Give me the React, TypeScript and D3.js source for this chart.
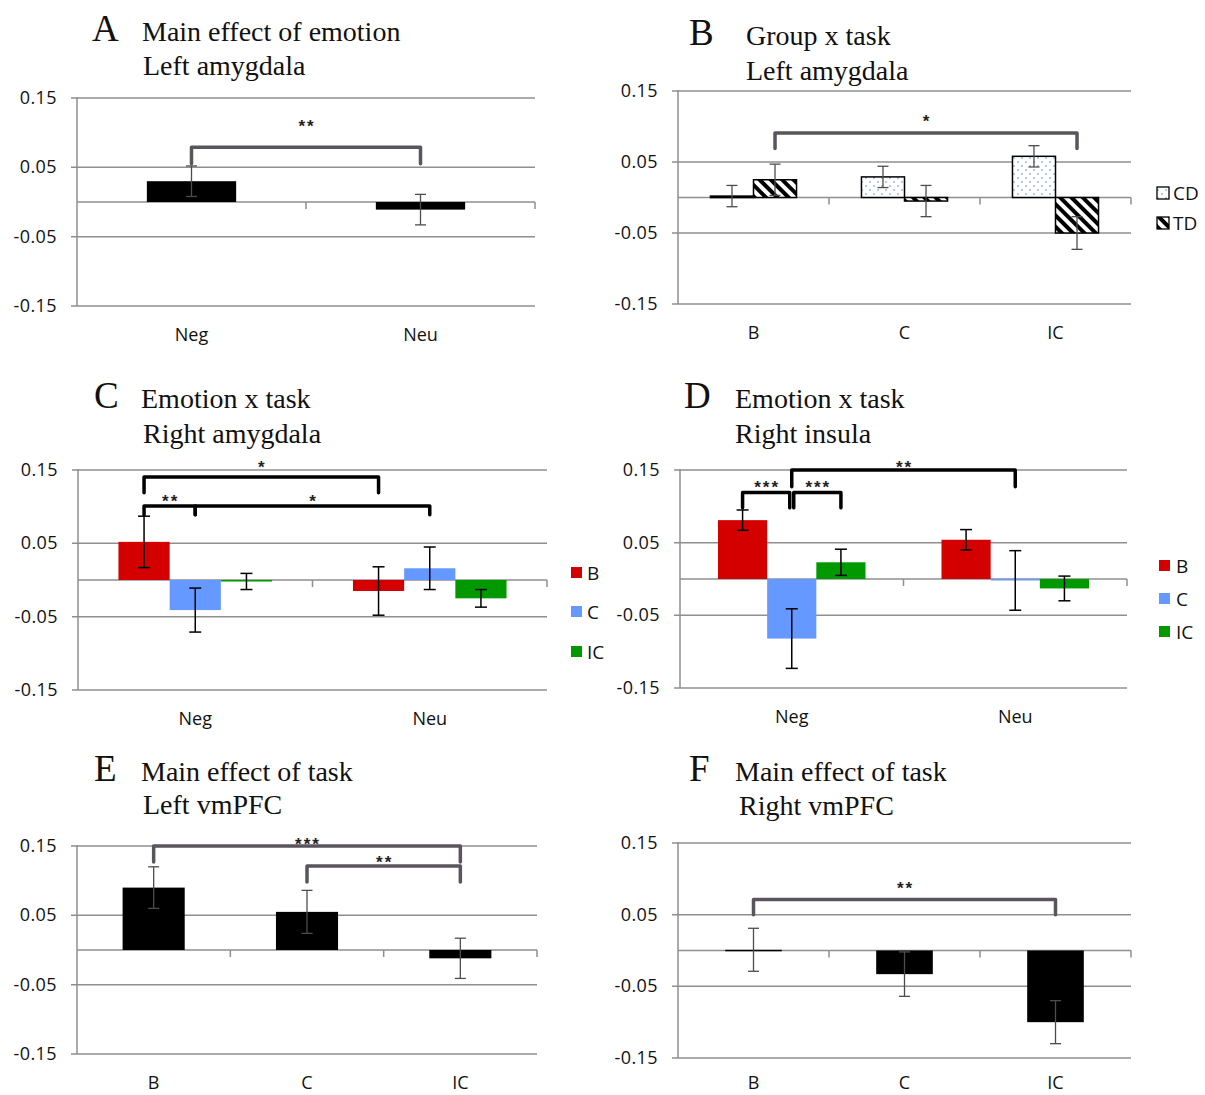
import React, { useEffect, useRef } from 'react';
import * as d3 from 'd3';

// categories and ticks
const emotionCats = ['Neg', 'Neu'];
const taskCats = ['B', 'C', 'IC'];
const tickValues = [0.15, 0.05, -0.05, -0.15];
const tickLabels = ['0.15', '0.05', '-0.05', '-0.15'];

// A: main effect of emotion, left amygdala
const aMeans = [0.03, -0.011];
const aSem = [0.022, 0.022];

// B: group x task, left amygdala
const bCD = [0.002, 0.029, 0.058];
const bCDsem = [0.015, 0.015, 0.015];
const bTD = [0.025, -0.005, -0.05];
const bTDsem = [0.022, 0.022, 0.023];

// C: emotion x task, right amygdala
const cB = [0.052, -0.015];
const cBsem = [0.035, 0.033];
const cC = [-0.041, 0.016];
const cCsem = [0.03, 0.029];
const cIC = [-0.002, -0.025];
const cICsem = [0.011, 0.012];

// D: emotion x task, right insula
const dB = [0.081, 0.054];
const dBsem = [0.014, 0.014];
const dC = [-0.082, -0.002];
const dCsem = [0.041, 0.041];
const dIC = [0.023, -0.013];
const dICsem = [0.018, 0.017];

// E: main effect of task, left vmPFC
const eMeans = [0.09, 0.055, -0.012];
const eSem = [0.03, 0.031, 0.029];

// F: main effect of task, right vmPFC
const fMeans = [0.001, -0.033, -0.1];
const fSem = [0.03, 0.031, 0.03];

// significance brackets: [category, series] ends, level and drop in data units
const aSig = [{ from: [0, 0], to: [1, 0], level: 0.079, drop: 0.055, label: '**', at: 0.115 }];
const bSig = [{ from: [0, 1], to: [2, 1], level: 0.091, drop: 0.069, label: '*', at: 0.114 }];
const cSig = [
  { from: [0, 0], to: [1, 0], level: 0.1405, drop: 0.119, label: '*', at: 0.16 },
  { from: [0, 0], to: [0, 1], level: 0.101, drop: 0.089, label: '**', at: 0.113 },
  { from: [0, 1], to: [1, 1], level: 0.101, drop: 0.089, label: '*', at: 0.113 },
];
const dSig = [
  { from: [0, 0], to: [0, 1], level: 0.119, drop: 0.098, label: '***', at: 0.132, nudgeR: -2 },
  { from: [0, 1], to: [0, 2], level: 0.119, drop: 0.098, label: '***', at: 0.132, nudgeL: 2 },
  { from: [0, 1], to: [1, 1], level: 0.15, drop: 0.127, label: '**', at: 0.16 },
];
const eSig = [
  { from: [0, 0], to: [2, 0], level: 0.15, drop: 0.127, label: '***', at: 0.159 },
  { from: [1, 0], to: [2, 0], level: 0.121, drop: 0.098, label: '**', at: 0.133 },
];
const fSig = [{ from: [0, 0], to: [2, 0], level: 0.071, drop: 0.05, label: '**', at: 0.093 }];

const RED = '#d40000';
const BLUE = '#6699ff';
const GREEN = '#009a00';
const GRID = '#8f8f8f';
const GREYBAR = '#5a545c';

const panels = [
  {
    letter: 'A', title1: 'Main effect of emotion', title2: 'Left amygdala',
    letterX: 92, titleX: 142, title2X: 143, base1: 41, base2: 75,
    x0: 77, x1: 535, yTop: 98, yBot: 306, cats: emotionCats, groupFrac: 0.39, labelOff: 35,
    series: [{ name: 'all', values: aMeans, sem: aSem, fill: '#000' }],
    errColor: '#4d4d4d', errWidth: 1.3, cap: 11, sigColor: GREYBAR, sig: aSig,
  },
  {
    letter: 'B', title1: 'Group x task', title2: 'Left amygdala',
    letterX: 689, titleX: 746, title2X: 746, base1: 45, base2: 80,
    x0: 678, x1: 1131, yTop: 91, yBot: 304, cats: taskCats, groupFrac: 0.57, labelOff: 35,
    series: [
      { name: 'CD', values: bCD, sem: bCDsem, fill: 'url(#dots)', stroke: '#000' },
      { name: 'TD', values: bTD, sem: bTDsem, fill: 'url(#hatch)', stroke: '#000' },
    ],
    errColor: '#4d4d4d', errWidth: 1.3, cap: 11, sigColor: GREYBAR, sig: bSig,
    legend: { x: 1157, ys: [187, 217], size: 12, textX: 1173, fontSize: 19 },
  },
  {
    letter: 'C', title1: 'Emotion x task', title2: 'Right amygdala',
    letterX: 94, titleX: 141, title2X: 143, base1: 408, base2: 443,
    x0: 78, x1: 547, yTop: 470, yBot: 690, cats: emotionCats, groupFrac: 0.655, labelOff: 35,
    series: [
      { name: 'B', values: cB, sem: cBsem, fill: RED },
      { name: 'C', values: cC, sem: cCsem, fill: BLUE },
      { name: 'IC', values: cIC, sem: cICsem, fill: GREEN },
    ],
    errColor: '#000', errWidth: 1.5, cap: 12, sigColor: '#000', sig: cSig,
    legend: { x: 571, ys: [567, 606, 646], size: 11, textX: 587, fontSize: 19 },
  },
  {
    letter: 'D', title1: 'Emotion x task', title2: 'Right insula',
    letterX: 684, titleX: 735, title2X: 735, base1: 408, base2: 443,
    x0: 680, x1: 1127, yTop: 470, yBot: 688, cats: emotionCats, groupFrac: 0.66, labelOff: 35,
    series: [
      { name: 'B', values: dB, sem: dBsem, fill: RED },
      { name: 'C', values: dC, sem: dCsem, fill: BLUE },
      { name: 'IC', values: dIC, sem: dICsem, fill: GREEN },
    ],
    errColor: '#000', errWidth: 1.5, cap: 12, sigColor: '#000', sig: dSig,
    legend: { x: 1159, ys: [560, 593, 626], size: 11, textX: 1176, fontSize: 19 },
  },
  {
    letter: 'E', title1: 'Main effect of task', title2: 'Left vmPFC',
    letterX: 94, titleX: 141, title2X: 143, base1: 781, base2: 814,
    x0: 77, x1: 537, yTop: 846, yBot: 1054, cats: taskCats, groupFrac: 0.405, labelOff: 35,
    series: [{ name: 'all', values: eMeans, sem: eSem, fill: '#000' }],
    errColor: '#4d4d4d', errWidth: 1.3, cap: 11, sigColor: GREYBAR, sig: eSig,
  },
  {
    letter: 'F', title1: 'Main effect of task', title2: 'Right vmPFC',
    letterX: 689, titleX: 735, title2X: 739, base1: 781, base2: 815,
    x0: 678, x1: 1131, yTop: 843, yBot: 1058, cats: taskCats, groupFrac: 0.375, labelOff: 31,
    series: [{ name: 'all', values: fMeans, sem: fSem, fill: '#000' }],
    errColor: '#4d4d4d', errWidth: 1.3, cap: 11, sigColor: GREYBAR, sig: fSig,
  },
];

const SANS = "'Open Sans', 'Liberation Sans', sans-serif";
const SERIF = "'Liberation Serif', 'DejaVu Serif', serif";

function drawPanel(svg: any, p: any) {
  const g = svg.append('g');
  const x = d3.scaleBand().domain(p.cats).range([p.x0, p.x1]);
  const y = d3.scaleLinear().domain([-0.15, 0.15]).range([p.yBot, p.yTop]);
  const bw = x.bandwidth();
  const gw = bw * p.groupFrac;
  const xs = d3.scaleBand().domain(p.series.map((s: any) => s.name)).range([0, gw]);
  const barX = (ci: number, si: number) =>
    (x(p.cats[ci]) as number) + (bw - gw) / 2 + (xs(p.series[si].name) as number);
  const barC = (ci: number, si: number) => barX(ci, si) + xs.bandwidth() / 2;

  // titles
  g.append('text').attr('x', p.letterX).attr('y', p.base1)
    .style('font-family', SERIF).style('font-size', '37px').style('fill', '#111').text(p.letter);
  g.append('text').attr('x', p.titleX).attr('y', p.base1)
    .style('font-family', SERIF).style('font-size', '28px').style('fill', '#111').text(p.title1);
  g.append('text').attr('x', p.title2X).attr('y', p.base2)
    .style('font-family', SERIF).style('font-size', '28px').style('fill', '#111').text(p.title2);

  // gridlines
  g.selectAll('.grid').data(tickValues).enter().append('line')
    .attr('x1', p.x0 - 6).attr('x2', p.x1)
    .attr('y1', (d: number) => y(d)).attr('y2', (d: number) => y(d))
    .attr('stroke', GRID).attr('stroke-width', 1.5);

  // tick labels
  g.selectAll('.tl').data(tickValues).enter().append('text')
    .attr('x', p.x0 - 20).attr('y', (d: number) => y(d) + 6)
    .attr('text-anchor', 'end')
    .style('font-family', SANS).style('font-size', '18px').style('letter-spacing', '0.4px')
    .style('fill', '#111')
    .text((d: number, i: number) => tickLabels[i]);

  // y axis and zero line
  g.append('line').attr('x1', p.x0).attr('x2', p.x0).attr('y1', y(0.15) - 1).attr('y2', y(-0.15))
    .attr('stroke', GRID).attr('stroke-width', 1.5);
  g.append('line').attr('x1', p.x0).attr('x2', p.x1).attr('y1', y(0)).attr('y2', y(0))
    .attr('stroke', GRID).attr('stroke-width', 1.5);
  g.selectAll('.ct').data(p.cats).enter().append('line')
    .attr('x1', (d: string) => (x(d) as number) + bw).attr('x2', (d: string) => (x(d) as number) + bw)
    .attr('y1', y(0)).attr('y2', y(0) + 7)
    .attr('stroke', GRID).attr('stroke-width', 1.5);

  // category labels
  g.selectAll('.cl').data(p.cats).enter().append('text')
    .attr('x', (d: string) => (x(d) as number) + bw / 2).attr('y', p.yBot + p.labelOff)
    .attr('text-anchor', 'middle')
    .style('font-family', SANS).style('font-size', '18px').style('fill', '#111')
    .text((d: string) => d);

  // bars
  p.series.forEach((s: any, si: number) => {
    g.selectAll(null).data(s.values).enter().append('rect')
      .attr('x', (d: number, i: number) => barX(i, si))
      .attr('width', xs.bandwidth())
      .attr('y', (d: number) => y(Math.max(0, d)))
      .attr('height', (d: number) => Math.max(Math.abs(y(d) - y(0)), 1.5))
      .attr('fill', s.fill)
      .attr('stroke', s.stroke || 'none')
      .attr('stroke-width', s.stroke ? 1.5 : 0);
  });

  // error bars
  p.series.forEach((s: any, si: number) => {
    s.values.forEach((v: number, i: number) => {
      const cx = barC(i, si);
      const hi = y(v + s.sem[i]);
      const lo = y(v - s.sem[i]);
      g.append('line').attr('x1', cx).attr('x2', cx).attr('y1', hi).attr('y2', lo)
        .attr('stroke', p.errColor).attr('stroke-width', p.errWidth);
      [hi, lo].forEach((yy) => {
        g.append('line').attr('x1', cx - p.cap / 2).attr('x2', cx + p.cap / 2)
          .attr('y1', yy).attr('y2', yy)
          .attr('stroke', p.errColor).attr('stroke-width', p.errWidth);
      });
    });
  });

  // significance brackets
  p.sig.forEach((b: any) => {
    const xa = barC(b.from[0], b.from[1]) + (b.nudgeL || 0);
    const xb = barC(b.to[0], b.to[1]) + (b.nudgeR || 0);
    const path = d3.path();
    path.moveTo(xa, y(b.drop));
    path.lineTo(xa, y(b.level));
    path.lineTo(xb, y(b.level));
    path.lineTo(xb, y(b.drop));
    g.append('path').attr('d', path.toString()).attr('fill', 'none')
      .attr('stroke', p.sigColor).attr('stroke-width', 3.5)
      .attr('stroke-linejoin', 'round').attr('stroke-linecap', 'round');
    g.append('text').attr('x', (xa + xb) / 2 + 1).attr('y', y(b.at) + 10)
      .attr('text-anchor', 'middle')
      .style('font-family', "'Liberation Sans', sans-serif").style('font-size', '17px')
      .style('font-weight', 'bold').style('letter-spacing', '2px').style('fill', '#222')
      .text(b.label);
  });

  // legend
  if (p.legend) {
    const L = p.legend;
    p.series.forEach((s: any, si: number) => {
      g.append('rect').attr('x', L.x).attr('y', L.ys[si])
        .attr('width', L.size).attr('height', L.size)
        .attr('fill', s.fill).attr('stroke', s.stroke || 'none').attr('stroke-width', 1.3);
      g.append('text').attr('x', L.textX).attr('y', L.ys[si] + L.size / 2 + 7)
        .style('font-family', SANS).style('font-size', `${L.fontSize}px`).style('fill', '#111')
        .text(s.name);
    });
  }
}

const App = () => {
  const ref = useRef<SVGSVGElement>(null);

  useEffect(() => {
    const svg = d3.select(ref.current);
    svg.selectAll('*').remove();

    const defs = svg.append('defs');
    const dots = defs.append('pattern').attr('id', 'dots')
      .attr('patternUnits', 'userSpaceOnUse').attr('width', 8).attr('height', 8);
    dots.append('rect').attr('width', 8).attr('height', 8).attr('fill', '#fff');
    dots.append('circle').attr('cx', 2).attr('cy', 2).attr('r', 0.8).attr('fill', '#5b84c4');
    dots.append('circle').attr('cx', 6).attr('cy', 6).attr('r', 0.8).attr('fill', '#5b84c4');

    const hatch = defs.append('pattern').attr('id', 'hatch')
      .attr('patternUnits', 'userSpaceOnUse').attr('width', 8).attr('height', 8)
      .attr('patternTransform', 'rotate(-45)');
    hatch.append('rect').attr('width', 8).attr('height', 8).attr('fill', '#fff');
    hatch.append('rect').attr('width', 4).attr('height', 8).attr('fill', '#000');

    panels.forEach((p) => drawPanel(svg, p));
  }, []);

  return (
    <svg ref={ref} width={1205} height={1095}
      style={{ position: 'absolute', left: 0, top: 0, background: '#fff' }} />
  );
};

export default App;
